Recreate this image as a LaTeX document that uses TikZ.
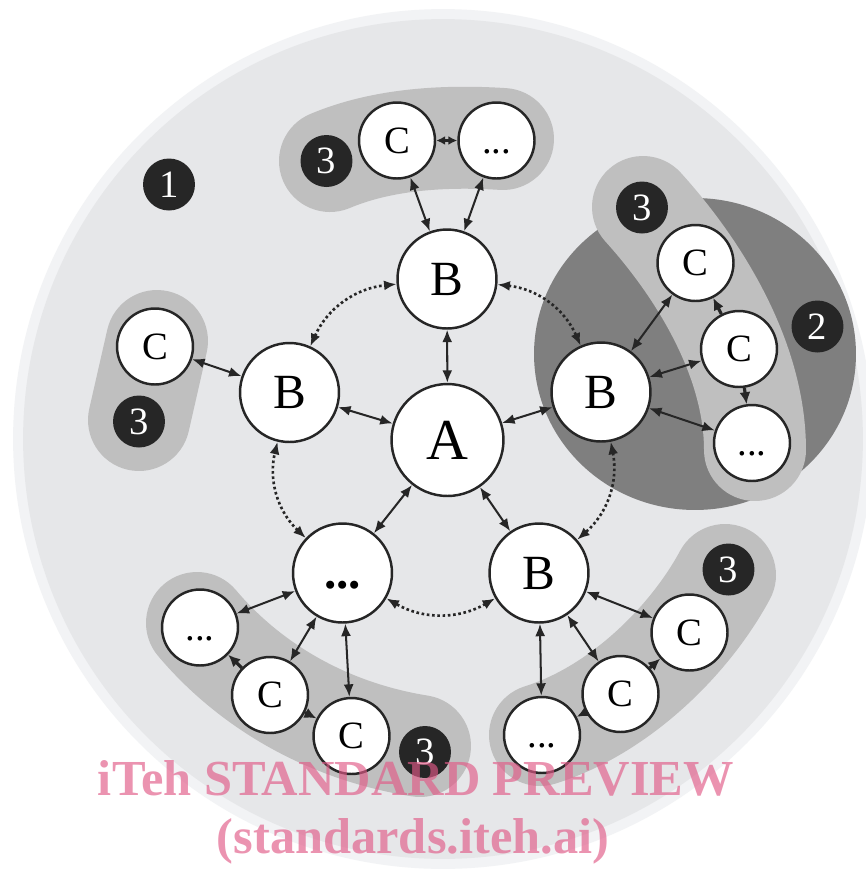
\documentclass[tikz,border=0pt]{standalone}
\usepackage{fontspec}
\setmainfont{Liberation Serif}
\usetikzlibrary{arrows.meta}
\definecolor{ring}{HTML}{F2F3F5}
\definecolor{inner}{HTML}{E6E7E9}
\definecolor{blobc}{HTML}{BFBFBF}
\definecolor{darkc}{HTML}{7F7F7F}
\definecolor{ink}{HTML}{262626}
\definecolor{wm}{RGB}{225,90,135}
\tikzset{
  nd/.style={circle, draw=ink, fill=white, line width=1.4pt, inner sep=0pt},
  nA/.style={nd, minimum size=2.24cm, font=\fontsize{33}{33}\selectfont},
  nB/.style={nd, minimum size=1.98cm, font=\fontsize{28}{28}\selectfont},
  nC/.style={nd, minimum size=1.52cm, font=\fontsize{22}{22}\selectfont},
  badge/.style={circle, fill=ink, text=white, minimum size=1.04cm, inner sep=0pt, font=\fontsize{22}{22}\selectfont},
  link/.style={draw=ink, line width=1.15pt, {Latex[length=2.5mm,width=2mm]}-{Latex[length=2.5mm,width=2mm]}},
  one/.style={draw=ink, line width=1.8pt, -{Latex[length=2.4mm,width=2.2mm]}},
  dotlink/.style={draw=ink, line width=1.5pt, dash pattern=on 1.5pt off 1.5pt, {Latex[length=2.5mm,width=2mm]}-{Latex[length=2.5mm,width=2mm]}, bend left=30},
  blob/.style={draw=blobc, line width=2.04cm, line cap=round},
  wmtext/.style={text=wm, opacity=0.65, font=\bfseries\fontsize{28.7}{28.7}\selectfont, anchor=base},
}
\begin{document}
\begin{tikzpicture}[x=0.02cm,y=-0.02cm]
\clip (0,0) rectangle (866,870);
\fill[white] (0,0) rectangle (866,870);
% background circles
\fill[ring] (443,439) circle[radius=8.6cm];
\fill[inner] (443,439) circle[radius=8.4cm];
\fill[darkc] (695,354) ellipse[x radius=3.22cm, y radius=3.12cm];
% group blobs
\draw[blob] (330,161) .. controls (380,140) and (440,135) .. (503,139);
\draw[blob] (157,341) -- (139,420);
\draw[blob] (643,207) .. controls (700,270) and (755,360) .. (755,450);
\draw[blob] (197,623) .. controls (245,680) and (320,730) .. (420,746);
\draw[blob] (725,575) .. controls (690,640) and (620,710) .. (540,735);
% badges
\node[badge] (k1) at (169,184.5) {1};
\node[badge] (k2) at (817.5,326.5) {2};
\node[badge] (k3t) at (326.5,161) {3};
\node[badge] (k3l) at (139,421.5) {3};
\node[badge] (k3r) at (642,207.5) {3};
\node[badge] (k3bl) at (425,752) {3};
\node[badge] (k3br) at (728.5,569.5) {3};
% main nodes
\node[nA] (A) at (447.5,440) {A};
\node[nB] (Bt) at (447,279) {B};
\node[nB] (Bl) at (289.5,392.5) {B};
\node[nB] (Br) at (601,392) {B};
\node[nB] (Bbl) at (342.5,573) {\textbf{\vphantom{C}...}};
\node[nB] (Bbr) at (539,573) {B};
% top group
\node[nC] (Ct1) at (397,140.5) {C};
\node[nC] (Ct2) at (496.5,140.5) {\vphantom{C}...};
% left group
\node[nC] (Cl) at (155,346.5) {C};
% right group
\node[nC] (Cr1) at (695.5,263) {C};
\node[nC] (Cr2) at (739,349) {C};
\node[nC] (Cr3) at (752,443) {\vphantom{C}...};
% bottom-left group
\node[nC] (Cbl1) at (200,627.5) {\vphantom{C}...};
\node[nC] (Cbl2) at (270,695) {C};
\node[nC] (Cbl3) at (351.5,736) {C};
% bottom-right group
\node[nC] (Cbr1) at (689.5,632.5) {C};
\node[nC] (Cbr2) at (620.5,694) {C};
\node[nC] (Cbr3) at (542,735) {\vphantom{C}...};
% A links
\draw[link] (A) -- (Bt);
\draw[link] (A) -- (Bl);
\draw[link] (A) -- (Br);
\draw[link] (A) -- (Bbl);
\draw[link] (A) -- (Bbr);
% dotted ring
\draw[dotlink] (Bl) to (Bt);
\draw[dotlink] (Bt) to (Br);
\draw[dotlink] (Br) to (Bbr);
\draw[dotlink] (Bbr) to (Bbl);
\draw[dotlink] (Bbl) to (Bl);
% group links
\draw[link] (Bt) -- (Ct1);
\draw[link] (Bt) -- (Ct2);
\draw[draw=ink, line width=1.15pt, {Latex[length=1.8mm,width=1.8mm]}-{Latex[length=1.8mm,width=1.8mm]}] (Ct1) -- (Ct2);
\draw[link] (Bl) -- (Cl);
\draw[link] (Br) -- (Cr1);
\draw[link] (Br) -- (Cr2);
\draw[link] (Br) -- (Cr3);
\draw[one] (Cr2) -- (Cr1);
\draw[one] (Cr2) -- (Cr3);
\draw[link] (Bbl) -- (Cbl1);
\draw[link] (Bbl) -- (Cbl2);
\draw[link] (Bbl) -- (Cbl3);
\draw[one] (Cbl2) -- (Cbl1);
\draw[one] (Cbl2) -- (Cbl3);
\draw[link] (Bbr) -- (Cbr1);
\draw[link] (Bbr) -- (Cbr2);
\draw[link] (Bbr) -- (Cbr3);
\draw[one] (Cbr2) -- (Cbr1);
\draw[one] (Cbr2) -- (Cbr3);
% watermark
\node[wmtext] (w1) at (416,795) {iTeh STANDARD PREVIEW};
\node[wmtext] (w2) at (413,853) {(standards.iteh.ai)};
\end{tikzpicture}
\end{document}
